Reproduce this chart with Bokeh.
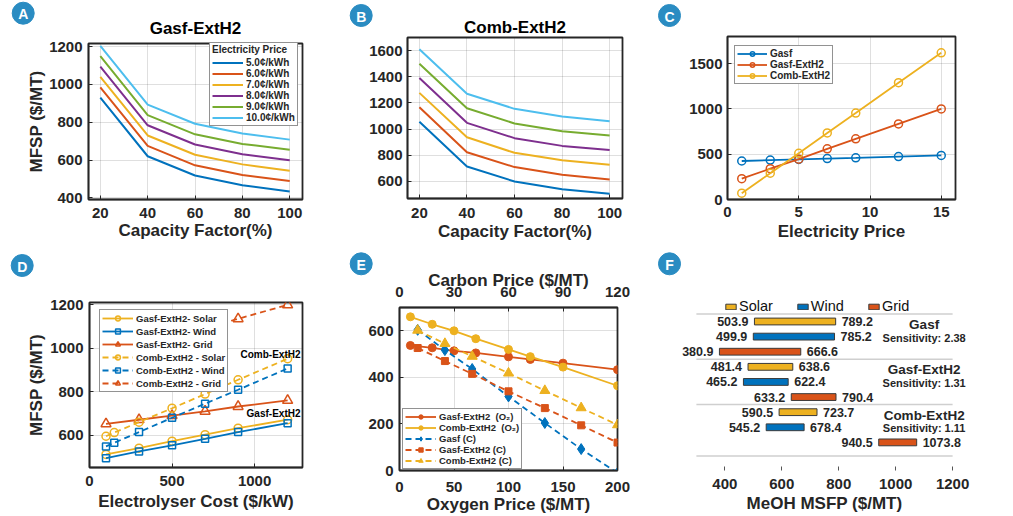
from bokeh.plotting import figure
from bokeh.models import Range1d, LinearAxis, FixedTicker, Legend, LegendItem, Label
from bokeh.layouts import row, column
from bokeh.embed import file_html
from bokeh.resources import INLINE
from bokeh.core.properties import value

FONT = "Liberation Sans"
TXT = "#262626"
BADGE = "#2a8cc2"
BLUE, ORANGE, YELLOW = "#0072BD", "#D95319", "#EDB120"
PURPLE, GREEN, CYAN = "#7E2F8E", "#77AC30", "#4DBEEE"
LINE_COLORS = [BLUE, ORANGE, YELLOW, PURPLE, GREEN, CYAN]

# ---------------- data ----------------
cap_factor = [20, 40, 60, 80, 100]
elec_price_labels = ["5.0¢/kWh", "6.0¢/kWh", "7.0¢/kWh", "8.0¢/kWh", "9.0¢/kWh", "10.0¢/kWh"]
a_gasf_exth2 = [
    [930, 620, 518, 467, 433],
    [985, 675, 572, 521, 489],
    [1040, 730, 628, 577, 543],
    [1094, 784, 682, 631, 599],
    [1150, 838, 736, 685, 655],
    [1205, 893, 792, 740, 708],
]
b_comb_exth2 = [
    [1056, 714, 600, 540, 506],
    [1167, 823, 710, 651, 615],
    [1277, 938, 819, 763, 727],
    [1390, 1048, 931, 872, 840],
    [1500, 1160, 1043, 984, 951],
    [1610, 1270, 1155, 1096, 1060],
]

elec_price = [1, 3, 5, 7, 9, 12, 15]
c_gasf = [425, 435, 443, 452, 460, 474, 487]
c_gasf_exth2 = [230, 340, 445, 560, 670, 835, 1000]
c_comb_exth2 = [70, 290, 510, 735, 955, 1290, 1620]

el_cost_gasf = [100, 300, 500, 700, 900, 1200]
el_cost_comb = [100, 150, 300, 500, 700, 900, 1200]
d_gasf_solar = [511, 540, 572, 602, 632, 671]
d_gasf_wind = [494, 525, 553, 583, 614, 655]
d_gasf_grid = [652, 671, 690, 710, 732, 760]
d_comb_solar = [595, 612, 660, 724, 789, 855, 952]
d_comb_wind = [548, 565, 614, 680, 745, 809, 907]
d_comb_grid = [965, 976, 1008, 1050, 1093, 1136, 1200]

oxygen_price = [10, 30, 50, 70, 100, 120, 150, 200]
e_gasf_exth2_o2 = [537, 527, 514, 505, 488, 477, 461, 433]
e_comb_exth2_o2 = [660, 628, 600, 566, 520, 489, 444, 364]
carbon_price = [10, 25, 40, 60, 80, 100, 120]
e_gasf_c = [604, 517, 436, 318, 204, 92, -11]
e_gasf_exth2_c = [526, 470, 415, 340, 268, 194, 120]
e_comb_exth2_c = [602, 545, 490, 418, 343, 269, 196]

f_configs = ["Gasf", "Gasf-ExtH2", "Comb-ExtH2"]
f_sources = ["Solar", "Wind", "Grid"]
f_low = [[503.9, 499.9, 380.9], [481.4, 465.2, 633.2], [590.5, 545.2, 940.5]]
f_high = [[789.2, 785.2, 666.6], [638.6, 622.4, 790.4], [723.7, 678.4, 1073.8]]
f_sensitivity = [2.38, 1.31, 1.11]
f_ticks = [400, 600, 800, 1000, 1200]
f_xlim = [300, 1200]
f_separators = [-0.5, 2.5, 5.5, 8.9]

panel_letters = ["A", "B", "C", "D", "E", "F"]
badge_x = [22.7, 360.7, 669, 21.7, 360.7, 669]
badge_y = [12.7, 15, 15, 265, 263.3, 263.3]


# ---------------- helpers ----------------
def style_axis(ax, tick_standoff, label_standoff, ticks=None):
    if ticks is not None:
        ax.ticker = FixedTicker(ticks=ticks)
    ax.major_label_text_font = FONT
    ax.major_label_text_font_size = "15px"
    ax.major_label_text_font_style = "bold"
    ax.major_label_text_color = TXT
    ax.axis_label_text_font = FONT
    ax.axis_label_text_font_size = "17px"
    ax.axis_label_text_font_style = "bold"
    ax.axis_label_text_color = TXT
    ax.major_label_standoff = tick_standoff
    ax.axis_label_standoff = label_standoff
    ax.major_tick_in = 4
    ax.major_tick_out = 0
    ax.minor_tick_in = 0
    ax.minor_tick_out = 0
    ax.axis_line_color = TXT
    ax.axis_line_width = 1.5
    ax.major_tick_line_color = TXT


def make_fig(w, h, xr, yr, bl, br, bt, bb, margin):
    p = figure(width=w, height=h, x_range=xr, y_range=yr, output_backend="svg",
               toolbar_location=None, min_border_left=bl, min_border_right=br,
               min_border_top=bt, min_border_bottom=bb, margin=margin)
    p.outline_line_color = TXT
    p.outline_line_width = 1.8
    p.grid.grid_line_color = TXT
    p.grid.grid_line_alpha = 0.15
    p.background_fill_color = "white"
    p.border_fill_alpha = 0
    return p


def style_legend(leg, fs="10px", gw=31, gh=11, lh=11, pad=2, spacing=0):
    leg.label_text_font = FONT
    leg.label_text_font_size = fs
    leg.label_text_font_style = "bold"
    leg.label_text_color = TXT
    leg.glyph_width = gw
    leg.glyph_height = gh
    leg.label_height = lh
    leg.label_standoff = 3
    leg.padding = pad
    leg.spacing = spacing
    leg.margin = 0
    leg.border_line_color = TXT
    leg.border_line_width = 1.5
    leg.background_fill_color = "white"
    leg.background_fill_alpha = 1


def set_title(p, text, standoff):
    p.title.text = text
    p.title.align = "center"
    p.title.text_font = FONT
    p.title.text_font_size = "17px"
    p.title.text_font_style = "bold"
    p.title.text_color = "black"
    p.title.standoff = standoff


# row 1: common top border 43, bottom border 47 ; row 2: top 61, bottom 46
# ---------------- A ----------------
pa = make_fig(340, 246, Range1d(15, 105.4), Range1d(391, 1217), 88, 38, 43, 47, (0, 0, 0, 0))
set_title(pa, "Gasf-ExtH2", 12)
style_axis(pa.xaxis[0], 8, 0, cap_factor)
style_axis(pa.yaxis[0], 6, 0, [400, 600, 800, 1000, 1200])
pa.xaxis.axis_label = "Capacity Factor(%)"
pa.yaxis.axis_label = "MFSP ($/MT)"
items = []
for k, (lab, ys) in enumerate(zip(elec_price_labels, a_gasf_exth2)):
    r = pa.line(cap_factor, ys, line_color=LINE_COLORS[k], line_width=2)
    items.append(LegendItem(label=lab, renderers=[r]))
leg = Legend(items=items, location=(121, 73), title="Electricity Price")
style_legend(leg)
leg.title_text_font = FONT
leg.title_text_font_size = "10px"
leg.title_text_font_style = "bold"
leg.title_text_color = TXT
leg.title_standoff = 2
pa.add_layout(leg)

# ---------------- B ----------------
pb = make_fig(320, 251, Range1d(15, 105.4), Range1d(470, 1700), 67, 38, 43, 47, (-6, 0, 1, 0))
set_title(pb, "Comb-ExtH2", 2)
style_axis(pb.xaxis[0], 9, 1, cap_factor)
style_axis(pb.yaxis[0], 5, 0, [600, 800, 1000, 1200, 1400, 1600])
pb.xaxis.axis_label = "Capacity Factor(%)"
for k, ys in enumerate(b_comb_exth2):
    pb.line(cap_factor, ys, line_color=LINE_COLORS[k], line_width=2)

# ---------------- C ----------------
pc = make_fig(345, 253, Range1d(0, 16), Range1d(0, 1800), 67, 50, 43, 47, (-7, 0, 0, 0))
style_axis(pc.xaxis[0], 7, 2, [0, 5, 10, 15])
style_axis(pc.yaxis[0], 5, 0, [0, 500, 1000, 1500])
pc.xaxis.axis_label = "Electricity Price"
items = []
for lab, ys, col in [("Gasf", c_gasf, BLUE), ("Gasf-ExtH2", c_gasf_exth2, ORANGE),
                     ("Comb-ExtH2", c_comb_exth2, YELLOW)]:
    r1 = pc.line(elec_price, ys, line_color=col, line_width=1.8)
    r2 = pc.scatter(elec_price, ys, marker="circle", size=8, line_color=col,
                    line_width=1.5, fill_color=None)
    items.append(LegendItem(label=lab, renderers=[r1, r2]))
leg = Legend(items=items, location=(7, 115))
style_legend(leg, gw=30)
pc.add_layout(leg)

# ---------------- D ----------------
pd_ = make_fig(340, 272, Range1d(0, 1290), Range1d(451, 1211), 89, 38, 61, 46, (-5, 0, 3, 0))
style_axis(pd_.xaxis[0], 8, 3, [0, 500, 1000])
style_axis(pd_.yaxis[0], 6, 1, [600, 800, 1000, 1200])
pd_.xaxis.axis_label = "Electrolyser Cost ($/kW)"
pd_.yaxis.axis_label = "MFSP ($/MT)"
d_series = [
    ("Gasf-ExtH2- Solar", el_cost_gasf, d_gasf_solar, YELLOW, "circle", "solid", 8),
    ("Gasf-ExtH2- Wind", el_cost_gasf, d_gasf_wind, BLUE, "square", "solid", 7),
    ("Gasf-ExtH2- Grid", el_cost_gasf, d_gasf_grid, ORANGE, "triangle", "solid", 10),
    ("Comb-ExtH2 - Solar", el_cost_comb, d_comb_solar, YELLOW, "circle", "6 4", 8),
    ("Comb-ExtH2 - Wind", el_cost_comb, d_comb_wind, BLUE, "square", "6 4", 7),
    ("Comb-ExtH2 - Grid", el_cost_comb, d_comb_grid, ORANGE, "triangle", "6 4", 10),
]
items = []
for lab, xs, ys, col, mk, dash, sz in d_series:
    r1 = pd_.line(xs, ys, line_color=col, line_width=1.8, line_dash=dash)
    r2 = pd_.scatter(xs, ys, marker=mk, size=sz, line_color=col, line_width=1.5, fill_color=None)
    items.append(LegendItem(label=lab, renderers=[r1, r2]))
leg = Legend(items=items, location=(10, 75))
style_legend(leg, fs="9.5px", gh=12, lh=12, pad=2, spacing=1)
pd_.add_layout(leg)
pd_.add_layout(Label(x=1290, y=970, x_offset=-2, text="Comb-ExtH2", text_align="right",
                     text_baseline="middle", text_font=FONT, text_font_size="10px",
                     text_font_style="bold", text_color="black"))
pd_.add_layout(Label(x=1290, y=698, x_offset=-2, text="Gasf-ExtH2", text_align="right",
                     text_baseline="middle", text_font=FONT, text_font_size="10px",
                     text_font_style="bold", text_color="black"))

# ---------------- E ----------------
pe = make_fig(320, 270, Range1d(0, 200), Range1d(0, 700), 59, 43, 61, 46, (0, 0, 0, 0))
pe.extra_x_ranges = {"carbon": Range1d(0, 120)}
style_axis(pe.xaxis[0], 11, 0, [0, 50, 100, 150, 200])
style_axis(pe.yaxis[0], 6, 0, [0, 200, 400, 600])
pe.xaxis[0].axis_label = "Oxygen Price ($/MT)"
top_ax = LinearAxis(x_range_name="carbon", axis_label="Carbon Price ($/MT)")
style_axis(top_ax, 11, -6, [0, 30, 60, 90, 120])
pe.add_layout(top_ax, "above")
items = []
for lab, ys, col in [("Gasf-ExtH2  (O₂)", e_gasf_exth2_o2, ORANGE),
                     ("Comb-ExtH2  (O₂)", e_comb_exth2_o2, YELLOW)]:
    r1 = pe.line(oxygen_price, ys, line_color=col, line_width=1.8)
    r2 = pe.scatter(oxygen_price, ys, marker="circle", size=8, line_color=col, fill_color=col)
    items.append(LegendItem(label=lab, renderers=[r1, r2]))
for lab, ys, col, mk, sz in [("Gasf (C)", e_gasf_c, BLUE, "diamond", 11),
                             ("Gasf-ExtH2 (C)", e_gasf_exth2_c, ORANGE, "square", 7),
                             ("Comb-ExtH2 (C)", e_comb_exth2_c, YELLOW, "triangle", 10)]:
    r1 = pe.line(carbon_price, ys, line_color=col, line_width=1.8, line_dash="6 4",
                 x_range_name="carbon")
    r2 = pe.scatter(carbon_price, ys, marker=mk, size=sz, line_color=col, fill_color=col,
                    x_range_name="carbon")
    items.append(LegendItem(label=lab, renderers=[r1, r2]))
leg = Legend(items=items, location=(3, 1))
style_legend(leg, fs="9.5px", gh=11, lh=11, pad=2)
pe.add_layout(leg)

# ---------------- F ----------------
pf = figure(width=345, height=290, x_range=Range1d(209, 1291), y_range=Range1d(9.86, -2.25),
            output_backend="svg", toolbar_location=None, min_border_left=10,
            min_border_right=27, min_border_top=61, min_border_bottom=46, margin=(-20, 0, 0, 0))
pf.outline_line_color = None
pf.grid.visible = False
pf.yaxis.visible = False
pf.border_fill_alpha = 0
pf.background_fill_alpha = 0
fx = pf.xaxis[0]
style_axis(fx, 8, 2, f_ticks)
fx.axis_line_color = None
fx.major_tick_line_color = "#555555"
fx.axis_label = "MeOH MSFP ($/MT)"

for s in f_separators:
    pf.line(f_xlim, [s, s], line_color="#cfcfcf", line_width=1.5)

src_colors = [YELLOW, BLUE, ORANGE]
items = []
for j, src in enumerate(f_sources):
    rows = [3 * i + j for i in range(len(f_configs))]
    lows = [f_low[i][j] for i in range(len(f_configs))]
    highs = [f_high[i][j] for i in range(len(f_configs))]
    r = pf.hbar(y=rows, left=lows, right=highs, height=0.45, fill_color=src_colors[j],
                line_color="#3a3a3a", line_width=1)
    items.append(LegendItem(label=src, renderers=[r]))
    pf.text(x=lows, y=rows, text=[f"{v:.1f}" for v in lows], text_align="right",
            text_baseline="middle", x_offset=-6, text_font=value(FONT),
            text_font_size="12.5px", text_font_style="bold", text_color=TXT)
    pf.text(x=highs, y=rows, text=[f"{v:.1f}" for v in highs], text_align="left",
            text_baseline="middle", x_offset=6, text_font=value(FONT),
            text_font_size="12.5px", text_font_style="bold", text_color=TXT)

grp_x = [1100] * len(f_configs)
pf.text(x=grp_x, y=[3 * i + 0.2 for i in range(3)], text=f_configs, text_align="center",
        text_baseline="middle", text_font=value(FONT), text_font_size="13.5px",
        text_font_style="bold", text_color=TXT)
pf.text(x=grp_x, y=[3 * i + 1.07 for i in range(3)],
        text=[f"Sensitivity: {s:.2f}" for s in f_sensitivity], text_align="center",
        text_baseline="middle", text_font=value(FONT), text_font_size="11px",
        text_font_style="bold", text_color=TXT)

leg = Legend(items=items, orientation="horizontal", location=(54, 156))
leg.label_text_font = FONT
leg.label_text_font_size = "14.5px"
leg.label_text_color = "#111111"
leg.glyph_width = 13
leg.glyph_height = 7
leg.label_height = 15
leg.label_standoff = 2
leg.spacing = 23
leg.padding = 0
leg.margin = 0
leg.border_line_color = None
leg.background_fill_alpha = 0
pf.add_layout(leg)

# ---------------- panel badges (transparent overlay) ----------------
po = figure(width=1005, height=516, x_range=Range1d(0, 1005), y_range=Range1d(516, 0),
            output_backend="svg", toolbar_location=None, x_axis_location=None,
            y_axis_location=None, min_border=0, margin=(-516, 0, 0, 0))
po.outline_line_color = None
po.background_fill_alpha = 0
po.border_fill_alpha = 0
for g in po.grid:
    g.visible = False
po.scatter(badge_x, badge_y, marker="circle", size=22, fill_color=BADGE, line_color=BADGE)
po.text(badge_x, badge_y, text=panel_letters, text_align="center", text_baseline="middle",
        text_font=value(FONT), text_font_size="14px", text_font_style="bold",
        text_color="white", y_offset=1)

root = column(row(pa, pb, pc), row(pd_, pe, pf), po)
open("out.html", "w").write(file_html(root, INLINE))
